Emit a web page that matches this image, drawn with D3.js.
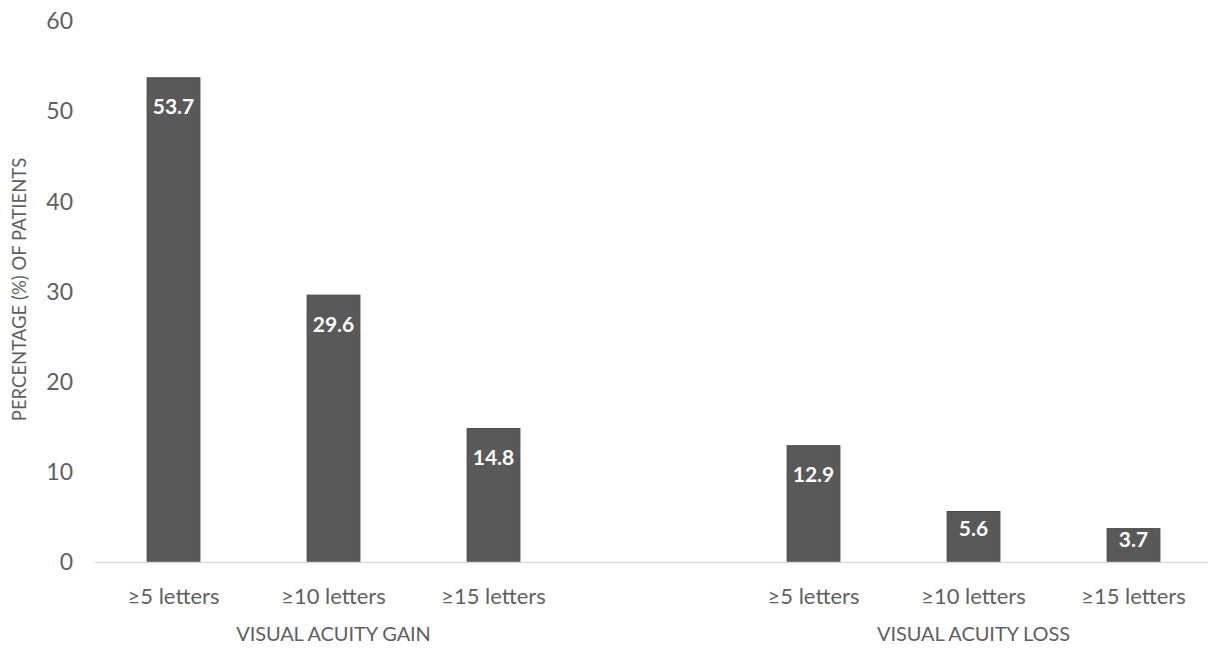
<!DOCTYPE html>
<html>
<head>
<meta charset="utf-8">
<script src="https://cdn.jsdelivr.net/npm/d3@7"></script>
<style>
  html, body { margin: 0; padding: 0; background: #fff; }
  svg { display: block; font-family: Lato, "Open Sans", sans-serif; }
</style>
</head>
<body>
<svg id="chart" width="1208" height="648"></svg>
<script>
// Category slots along the x axis (one empty slot separates the two groups)
const slots = ["g5", "g10", "g15", "gap", "l5", "l10", "l15"];
const categoryLabels = ["≥5 letters", "≥10 letters", "≥15 letters", "", "≥5 letters", "≥10 letters", "≥15 letters"];
const values = [53.7, 29.6, 14.8, null, 12.9, 5.6, 3.7];
const groups = ["VISUAL ACUITY GAIN", "VISUAL ACUITY LOSS"];
const groupSlots = [["g5", "g10", "g15"], ["l5", "l10", "l15"]];
const yTicks = [0, 10, 20, 30, 40, 50, 60];
const yTitle = "PERCENTAGE (%) OF PATIENTS";

const svg = d3.select("#chart");
const baseY = 562, topY = 21;
const x = d3.scaleBand().domain(slots).range([93.5, 1213.5]).paddingInner(0.67).paddingOuter(0.335);
const y = d3.scaleLinear().domain([0, 60]).range([baseY, topY]);

const textColor = "#5f5f5f";

// y tick labels
svg.append("g").selectAll("text").data(yTicks).join("text")
  .attr("x", 73).attr("y", d => y(d)).attr("dy", "0.36em")
  .attr("text-anchor", "end").attr("fill", textColor).attr("font-size", 23)
  .text(d => d);

// y axis title
svg.append("text")
  .attr("transform", `translate(26, ${(baseY + topY) / 2 - 2}) rotate(-90)`)
  .attr("text-anchor", "middle").attr("fill", textColor).attr("font-size", 18.5)
  .text(yTitle);

// bars
const data = slots.map((s, i) => ({ slot: s, value: values[i], label: categoryLabels[i] }));
const bars = data.filter(d => d.value != null);
svg.append("g").selectAll("rect").data(bars).join("rect")
  .attr("x", d => x(d.slot)).attr("width", x.bandwidth())
  .attr("y", d => y(d.value)).attr("height", d => baseY - y(d.value))
  .attr("fill", "#595959").attr("stroke", "#4a4a4a").attr("stroke-width", 1);

// baseline
svg.append("line")
  .attr("x1", 95).attr("x2", 1208).attr("y1", baseY + 0.5).attr("y2", baseY + 0.5)
  .attr("stroke", "#d9d9d9").attr("stroke-width", 1.5);

// value labels inside bar tops
svg.append("g").selectAll("text").data(bars).join("text")
  .attr("x", d => x(d.slot) + x.bandwidth() / 2)
  .attr("y", d => y(d.value) + Math.min(29, (baseY - y(d.value)) / 3))
  .attr("dy", "0.36em").attr("text-anchor", "middle")
  .attr("fill", "#fff").attr("font-weight", "bold").attr("font-size", 21)
  .text(d => d.value.toFixed(1));

// category labels
svg.append("g").selectAll("text").data(bars).join("text")
  .attr("x", d => x(d.slot) + x.bandwidth() / 2).attr("y", 596).attr("dy", "0.36em")
  .attr("text-anchor", "middle").attr("fill", textColor).attr("font-size", 22)
  .text(d => d.label);

// group labels
svg.append("g").selectAll("text").data(groups).join("text")
  .attr("x", (d, i) => {
    const s = groupSlots[i];
    return (x(s[0]) + x(s[s.length - 1]) + x.bandwidth()) / 2;
  })
  .attr("y", 634).attr("dy", "0.36em")
  .attr("text-anchor", "middle").attr("fill", textColor).attr("font-size", 20)
  .attr("letter-spacing", -0.1)
  .text(d => d);
</script>
</body>
</html>
